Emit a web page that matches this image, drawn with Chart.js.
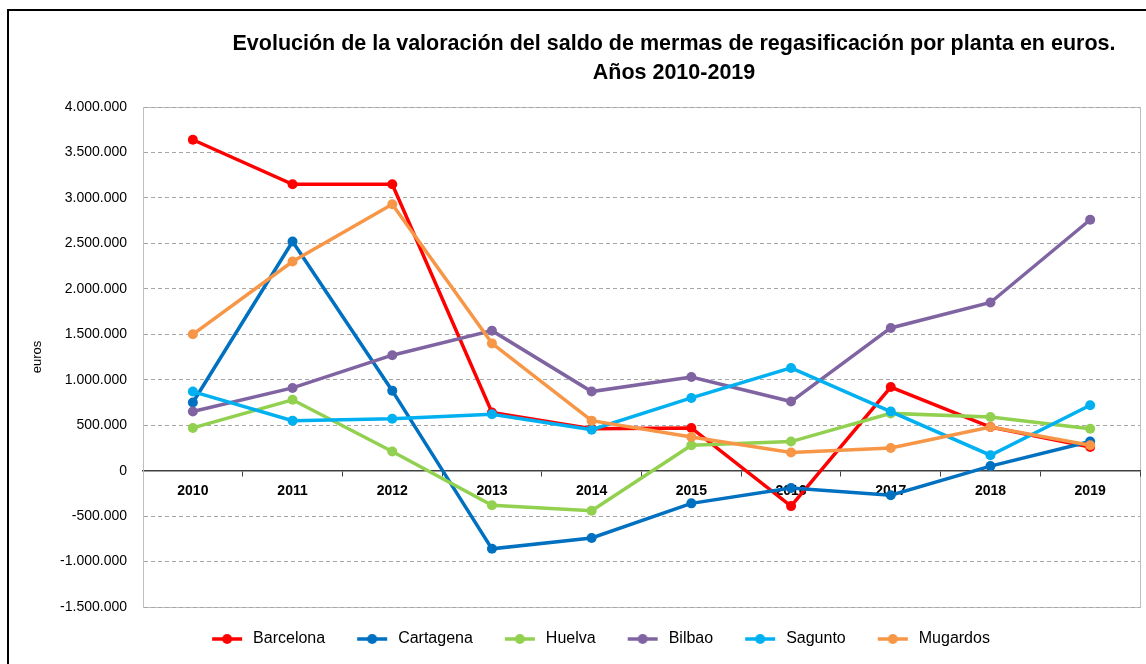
<!DOCTYPE html>
<html lang="es">
<head>
<meta charset="utf-8">
<title>Saldo de mermas de regasificación</title>
<script src="https://cdn.jsdelivr.net/npm/chart.js@4.4.1/dist/chart.umd.min.js"></script>
<style>
    html, body { margin: 0; padding: 0; background: #fff; }
    #grafico { display: block; }
</style>
</head>
<body>
<canvas id="grafico" width="1146" height="664"></canvas>
<script>
// Datos (euros)
const anios = ['2010', '2011', '2012', '2013', '2014', '2015', '2016', '2017', '2018', '2019'];
const plantas = ['Barcelona', 'Cartagena', 'Huelva', 'Bilbao', 'Sagunto', 'Mugardos'];
const barcelona = [3640000, 3150000, 3150000, 640000, 460000, 470000, -390000, 920000, 480000, 260000];
const cartagena = [750000, 2520000, 880000, -860000, -740000, -360000, -190000, -270000, 50000, 320000];
const huelva = [470000, 780000, 210000, -380000, -440000, 280000, 320000, 630000, 590000, 460000];
const bilbao = [650000, 910000, 1270000, 1540000, 870000, 1030000, 760000, 1570000, 1850000, 2760000];
const sagunto = [870000, 550000, 570000, 620000, 450000, 800000, 1130000, 650000, 170000, 720000];
const mugardos = [1500000, 2300000, 2930000, 1400000, 550000, 370000, 200000, 250000, 480000, 280000];
const ejeMin = -1500000;
const ejeMax = 4000000;
const ejePaso = 500000;

const titulo = ['Evolución de la valoración del saldo de mermas de regasificación por planta en euros.', 'Años 2010-2019'];
const tituloEje = 'euros';

const series = [barcelona, cartagena, huelva, bilbao, sagunto, mugardos];
const colores = ['#ff0000', '#0070c0', '#92d050', '#8064a2', '#00b0f0', '#f79646'];

const fuente = "'Liberation Sans', Arial, sans-serif";

// 1.500.000 -> formato con puntos
function formatoMiles(v) {
    const s = Math.abs(v).toString().replace(/\B(?=(\d{3})+(?!\d))/g, '.');
    return (v < 0 ? '-' : '') + s;
}

// Marcador de leyenda: línea con círculo
function marcador(color) {
    const c = document.createElement('canvas');
    c.width = 55;
    c.height = 14;
    const ctx = c.getContext('2d');
    ctx.strokeStyle = color;
    ctx.lineWidth = 3.5;
    ctx.beginPath();
    ctx.moveTo(22, 7);
    ctx.lineTo(52, 7);
    ctx.stroke();
    ctx.fillStyle = color;
    ctx.beginPath();
    ctx.arc(37, 7, 5, 0, Math.PI * 2);
    ctx.fill();
    return c;
}

const datasets = plantas.map((nombre, i) => ({
    label: nombre,
    data: series[i],
    borderColor: colores[i],
    backgroundColor: colores[i],
    borderWidth: 3.5,
    pointRadius: 5,
    pointBorderWidth: 0,
    pointBackgroundColor: colores[i],
    tension: 0,
    order: plantas.length - i
}));

// Marco exterior y borde del área de trazado
const marco = {
    id: 'marco',
    beforeDraw(chart) {
        const ctx = chart.ctx;
        const a = chart.chartArea;
        ctx.save();
        ctx.fillStyle = '#fff';
        ctx.fillRect(0, 0, chart.width, chart.height);
        ctx.strokeStyle = '#bfbfbf';
        ctx.lineWidth = 1;
        ctx.strokeRect(a.left + 0.5, a.top + 0.5, a.right - a.left, a.bottom - a.top);
        ctx.strokeStyle = '#000';
        ctx.lineWidth = 2;
        ctx.beginPath();
        ctx.moveTo(8, chart.height + 2);
        ctx.lineTo(8, 10);
        ctx.lineTo(chart.width + 2, 10);
        ctx.stroke();
        ctx.restore();
    },
    afterLayout(chart) {
        // desplazar título y leyenda como en el original
        chart.titleBlock.left += 104;
        chart.titleBlock.right += 104;
        chart.legend.left += 20;
        chart.legend.right += 20;
        chart.legend.top += 14;
        chart.legend.bottom += 14;
    }
};

new Chart(document.getElementById('grafico'), {
    type: 'line',
    data: { labels: anios, datasets: datasets },
    plugins: [marco],
    options: {
        responsive: false,
        animation: false,
        devicePixelRatio: 1,
        layout: { padding: { top: 12, right: 6, bottom: 21, left: 0 } },
        plugins: {
            title: {
                display: true,
                text: titulo,
                color: '#000',
                font: { family: fuente, size: 21.5, weight: 'bold', lineHeight: 1.35 },
                padding: { top: 18, bottom: 19 }
            },
            legend: {
                position: 'bottom',
                labels: {
                    color: '#000',
                    font: { family: fuente, size: 16 },
                    usePointStyle: true,
                    pointStyleWidth: 55,
                    padding: 10,
                    generateLabels(chart) {
                        return chart.data.datasets.map((ds, i) => ({
                            text: ds.label,
                            fillStyle: ds.borderColor,
                            strokeStyle: ds.borderColor,
                            lineWidth: 0,
                            pointStyle: marcador(ds.borderColor),
                            datasetIndex: i,
                            hidden: false
                        }));
                    }
                }
            },
            tooltip: { enabled: false }
        },
        scales: {
            x: {
                position: { y: 0 },
                offset: true,
                grid: {
                    offset: true,
                    drawOnChartArea: false,
                    drawTicks: true,
                    tickLength: 5,
                    color: '#404040'
                },
                border: { color: '#404040', width: 1.5 },
                ticks: {
                    color: '#000',
                    font: { family: fuente, size: 14, weight: 'bold' },
                    padding: 7,
                    maxRotation: 0
                }
            },
            y: {
                min: ejeMin,
                max: ejeMax,
                afterFit(scale) { scale.width = 143; },
                grid: {
                    color: '#a6a6a6',
                    drawTicks: false,
                    lineWidth: 1
                },
                border: { color: '#bfbfbf', dash: [4, 3] },
                ticks: {
                    stepSize: ejePaso,
                    color: '#000',
                    padding: 16,
                    font: { family: fuente, size: 14 },
                    callback: v => formatoMiles(v)
                },
                title: {
                    display: true,
                    text: tituloEje,
                    color: '#000',
                    font: { family: fuente, size: 13 },
                    padding: { top: 30, bottom: 0 }
                }
            }
        }
    }
});
</script>
</body>
</html>
